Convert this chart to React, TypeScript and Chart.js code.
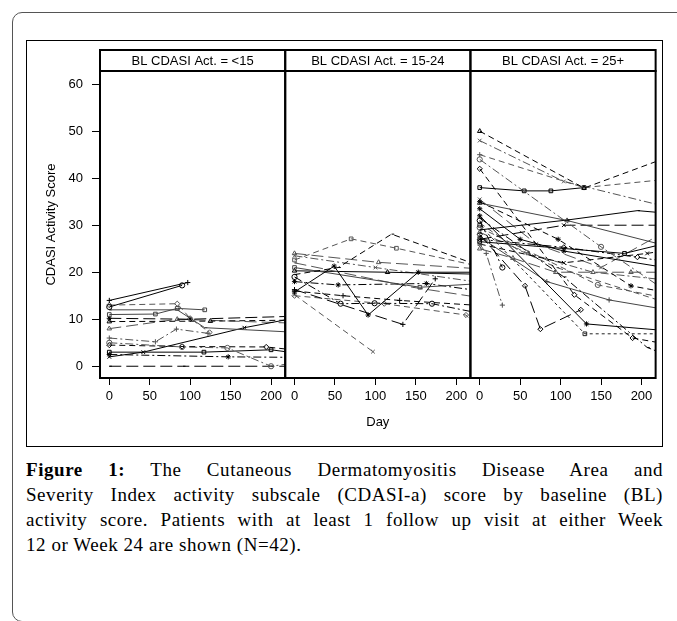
import React, { useEffect, useRef } from 'react';
import { Chart, registerables } from 'chart.js';

Chart.register(...registerables);

// ---------- text ----------
const PANEL_TITLES = ['BL CDASI Act. = <15', 'BL CDASI Act. = 15-24', 'BL CDASI Act. = 25+'];
const X_TITLE = 'Day';
const Y_TITLE = 'CDASI Activity Score';
const X_TICKS = [0, 50, 100, 150, 200];
const Y_TICKS = [0, 10, 20, 30, 40, 50, 60];
const CAPTION_BOLD = 'Figure 1:';
const CAPTION_LINES = [
  ' The Cutaneous Dermatomyositis Disease Area and',
  'Severity Index activity subscale (CDASI-a) score by baseline (BL)',
  'activity score. Patients with at least 1 follow up visit at either Week',
  '12 or Week 24 are shown (N=42).',
];

// ---------- data: [day, score] per patient ----------
const LOW_GROUP: number[][][] = [
  [[0, 14], [97, 17.8]],
  [[0, 12.6], [90, 17.2]],
  [[0, 13], [84, 13.3], [100, 10.2], [124, 7.2]],
  [[0, 11], [57, 11.1], [84, 12.3], [118, 12]],
  [[0, 10.2], [100, 10], [222, 10.6]],
  [[0, 12], [84, 12], [118, 8.2], [222, 7.3]],
  [[0, 9.5], [125, 9.6], [222, 9.8]],
  [[0, 2], [42, 3], [167, 8.2], [222, 10]],
  [[0, 6], [57, 5.2], [83, 7.9], [122, 7]],
  [[0, 5], [90, 4.1], [146, 3.9], [200, 0], [222, 0.5]],
  [[0, 4.5], [90, 4.2], [194, 4.1], [222, 3.6]],
  [[0, 3], [117, 3], [200, 3.5], [222, 3]],
  [[0, 2.5], [147, 2], [222, 1.9]],
  [[0, 0], [91, 0], [200, 0], [222, 0]],
  [[0, 8], [84, 10], [222, 9.2]],
];

const MID_GROUP: number[][][] = [
  [[0, 22.6], [70, 27.1], [126, 25.1], [222, 21.5]],
  [[0, 15.8], [49, 21.3], [91, 10.9], [153, 20], [222, 20]],
  [[0, 19.5], [54, 21], [120, 28.1], [222, 21.8]],
  [[0, 24], [104, 22.1], [222, 20.8]],
  [[0, 15.2], [97, 3.1]],
  [[0, 16.3], [134, 8.9], [174, 18.6]],
  [[0, 19], [57, 13.3], [99, 13.4], [170, 13.3], [222, 11.5]],
  [[0, 15], [111, 13.3], [212, 10.9], [222, 9]],
  [[0, 21], [155, 16.8], [222, 17.5]],
  [[0, 18], [54, 17.3], [163, 17.6], [222, 16.2]],
  [[0, 22], [146, 16.8], [222, 14.8]],
  [[0, 20.3], [115, 20], [222, 19.6]],
  [[0, 23.5], [100, 21], [222, 18]],
  [[0, 16], [60, 15], [130, 14], [222, 13]],
];

const HIGH_GROUP: number[][][] = [
  [[0, 50], [129, 37.9], [222, 43.8]],
  [[0, 48], [104, 39.3], [222, 34.3]],
  [[0, 45], [129, 38], [222, 39.6]],
  [[0, 44], [150, 25.4], [222, 17]],
  [[0, 42], [117, 15.2], [189, 6], [222, 5]],
  [[0, 38], [55, 37.3], [88, 37.3], [129, 38]],
  [[0, 35], [97, 27], [187, 17.1], [222, 16]],
  [[0, 29], [108, 31.1], [195, 33.1], [222, 32.7]],
  [[0, 34.7], [108, 31], [222, 26]],
  [[0, 27], [104, 30], [222, 30]],
  [[0, 26], [8, 24], [28, 13]],
  [[0, 31], [28, 21]],
  [[0, 28], [56, 17.1], [75, 7.9], [125, 12]],
  [[0, 30], [130, 6.9], [222, 6.9]],
  [[0, 32], [132, 9], [222, 7.7]],
  [[0, 31.5], [104, 19], [207, 4], [222, 3]],
  [[0, 25], [41, 23], [94, 20], [187, 20], [222, 20]],
  [[0, 26], [104, 22], [207, 24], [222, 24.4]],
  [[0, 27.5], [83, 18], [160, 14.1], [222, 12.3]],
  [[0, 29.5], [146, 17.3], [222, 14.8]],
  [[0, 27], [104, 25.3], [195, 23.2], [222, 22.5]],
  [[0, 26.5], [179, 24], [222, 25.8]],
  [[0, 33.5], [50, 27], [104, 24.5], [222, 21.2]],
  [[0, 30.5], [45, 25], [95, 21], [222, 14]],
  [[0, 28.5], [60, 24], [140, 20], [222, 18.5]],
  [[0, 35.5], [70, 26], [150, 21], [222, 27.9]],
];

const GROUPS = [LOW_GROUP, MID_GROUP, HIGH_GROUP];
const X_IDS = ['x1', 'x2', 'x3'];

// ---------- styles ----------
const LINE_STYLES = [
  { dash: [], color: '#000' },
  { dash: [], color: '#444' },
  { dash: [6, 4], color: '#000' },
  { dash: [6, 4], color: '#555' },
  { dash: [12, 5], color: '#000' },
  { dash: [12, 5], color: '#555' },
  { dash: [8, 3, 2, 3], color: '#000' },
  { dash: [8, 3, 2, 3], color: '#555' },
  { dash: [3, 3], color: '#222' },
];
const MARKERS = ['cross', 'rect', 'triangle', 'circle', 'star', 'crossRot', 'rectRot', 'dash'];
const STYLE_ORDER = [
  [0, 0, 3, 1, 4, 1, 2, 0, 7, 7, 2, 0, 6, 4, 5],
  [3, 0, 2, 5, 3, 4, 6, 3, 1, 6, 5, 0, 7, 2],
  [2, 7, 3, 7, 2, 0, 2, 0, 1, 4, 7, 6, 4, 8, 0, 6, 5, 2, 1, 3, 6, 0, 0, 3, 7, 5],
];

const FONT = '"Liberation Sans", Arial, Helvetica, sans-serif';
const HEADER_H = 21;

const panelFrames = {
  id: 'panelFrames',
  afterDatasetsDraw(chart: any) {
    const { ctx, chartArea } = chart;
    ctx.save();
    ctx.strokeStyle = '#000';
    ctx.lineWidth = 2;
    X_IDS.forEach((id, i) => {
      const s = chart.scales[id];
      const w = s.right - s.left;
      const hTop = chartArea.top - HEADER_H;
      ctx.strokeRect(s.left, chartArea.top, w, chartArea.bottom - chartArea.top);
      ctx.strokeRect(s.left, hTop, w, HEADER_H);
      ctx.font = `13px ${FONT}`;
      ctx.fillStyle = '#000';
      ctx.textAlign = 'center';
      ctx.textBaseline = 'middle';
      ctx.fillText(PANEL_TITLES[i], (s.left + s.right) / 2, hTop + HEADER_H / 2 + 0.5);
    });
    ctx.restore();
  },
};

function buildDatasets() {
  const out: any[] = [];
  GROUPS.forEach((group, gi) => {
    group.forEach((pts, pi) => {
      const st = LINE_STYLES[STYLE_ORDER[gi][pi % STYLE_ORDER[gi].length]];
      const mk = MARKERS[(pi * 3 + gi) % MARKERS.length];
      out.push({
        data: pts.map(([x, y]) => ({ x, y })),
        xAxisID: X_IDS[gi],
        yAxisID: 'y',
        borderColor: st.color,
        borderDash: st.dash,
        borderWidth: 1,
        pointStyle: mk,
        pointRadius: 2.6,
        pointBorderWidth: 1,
        pointBorderColor: st.color,
        pointBackgroundColor: 'rgba(0,0,0,0)',
        fill: false,
        tension: 0,
      });
    });
  });
  return out;
}

function xScale(withTitle: boolean) {
  return {
    type: 'linear',
    position: 'bottom',
    stack: 'panels',
    stackWeight: 1,
    min: -11.5,
    max: 217.5,
    border: { display: false },
    grid: { drawOnChartArea: false, drawTicks: true, tickLength: 7, color: '#000', lineWidth: 1 },
    ticks: { font: { family: FONT, size: 13 }, color: '#000', padding: 4, maxRotation: 0 },
    afterBuildTicks: (s: any) => {
      s.ticks = X_TICKS.map((v) => ({ value: v }));
    },
    afterFit: (s: any) => {
      s.height = 69;
    },
    title: {
      display: withTitle,
      text: X_TITLE,
      font: { family: FONT, size: 13 },
      color: '#000',
      padding: { top: 0, bottom: 17 },
    },
  };
}

export default function App() {
  const ref = useRef<HTMLCanvasElement>(null);
  useEffect(() => {
    if (!ref.current) return;
    const chart = new Chart(ref.current, {
      type: 'line',
      data: { datasets: buildDatasets() },
      options: {
        animation: false,
        responsive: false,
        maintainAspectRatio: false,
        layout: { padding: { top: 31, right: 6, left: 0, bottom: 0 } },
        plugins: { legend: { display: false }, tooltip: { enabled: false } },
        scales: {
          y: {
            type: 'linear',
            position: 'left',
            min: -2.5,
            max: 62.8,
            border: { display: false },
            grid: { drawOnChartArea: false, drawTicks: true, tickLength: 8, color: '#000', lineWidth: 1 },
            ticks: { font: { family: FONT, size: 13 }, color: '#000', padding: 9 },
            afterBuildTicks: (s: any) => {
              s.ticks = Y_TICKS.map((v) => ({ value: v }));
            },
            afterFit: (s: any) => {
              s.width = 74;
            },
            title: {
              display: true,
              text: Y_TITLE,
              font: { family: FONT, size: 13 },
              color: '#000',
              padding: { top: 18, bottom: 0 },
            },
          },
          x1: xScale(false),
          x2: xScale(true),
          x3: xScale(false),
        } as any,
      },
      plugins: [panelFrames],
    } as any);
    return () => chart.destroy();
  }, []);

  const capStyle: React.CSSProperties = {
    fontFamily: '"Liberation Serif", "Times New Roman", serif',
    fontSize: 19,
    letterSpacing: 0.55,
    lineHeight: '25px',
    color: '#000',
    whiteSpace: 'normal',
  };

  return (
    <div style={{ position: 'fixed', left: 0, top: 0, width: 677, height: 621, overflow: 'hidden', background: '#fff' }}>
      <div
        style={{
          position: 'absolute', left: 12, top: 12, width: 720, height: 610,
          border: '1px solid #555', borderRadius: 10, boxSizing: 'border-box',
        }}
      />
      <div
        style={{
          position: 'absolute', left: 26, top: 40, width: 637, height: 407,
          border: '1px solid #000', boxSizing: 'border-box',
        }}
      />
      <canvas
        ref={ref}
        width={637}
        height={407}
        style={{ position: 'absolute', left: 26, top: 40, width: 637, height: 407 }}
      />
      <div style={{ position: 'absolute', left: 26, top: 457, width: 637, ...capStyle }}>
        {CAPTION_LINES.map((line, i) => (
          <div
            key={i}
            style={{
              textAlign: 'justify',
              textAlignLast: i < CAPTION_LINES.length - 1 ? 'justify' : 'left',
            } as React.CSSProperties}
          >
            {i === 0 ? <b>{CAPTION_BOLD}</b> : null}
            {line}
          </div>
        ))}
      </div>
    </div>
  );
}
